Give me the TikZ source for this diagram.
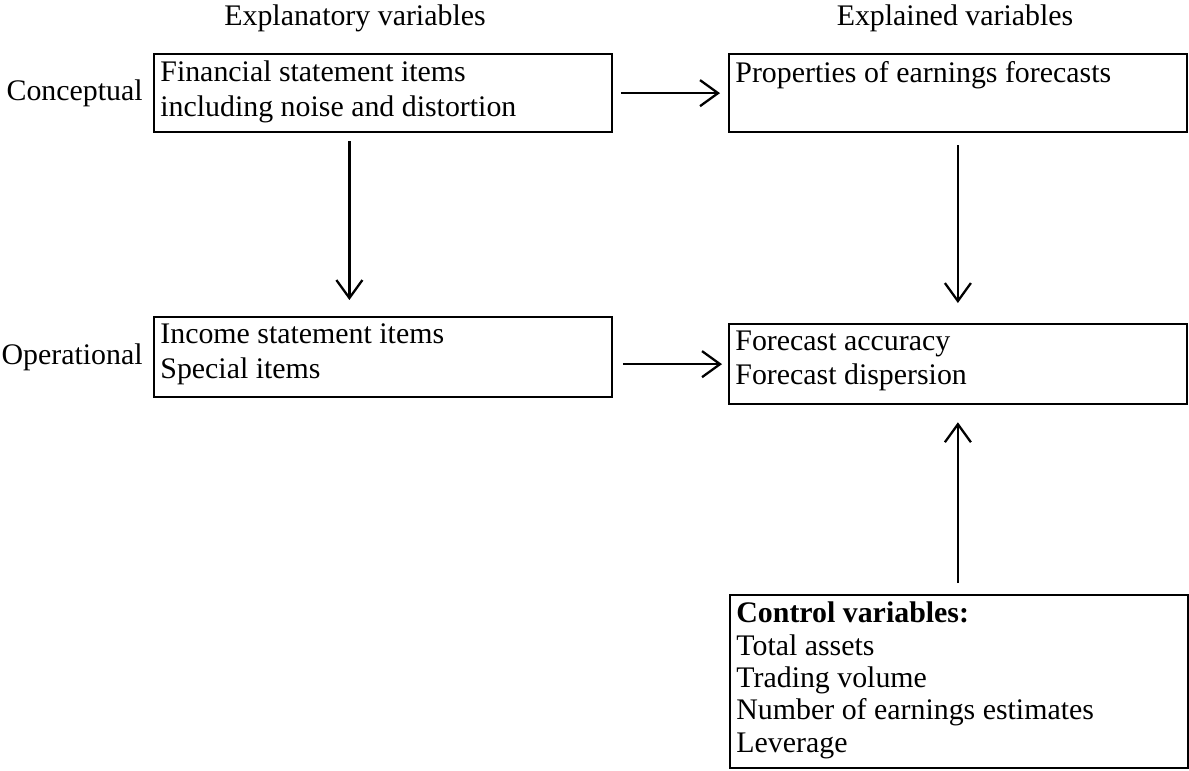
\documentclass[tikz,border=0pt]{standalone}
\usepackage{fontspec}
\setmainfont{Liberation Serif}
\usetikzlibrary{arrows.meta,positioning}

% text at the top of a box of given height
\newcommand{\boxtext}[2]{\parbox[c][#1][t]{8.9cm}{\vspace*{0.06cm}#2}}

\tikzset{
    item/.style={draw, line width=1.3pt, anchor=north west, inner sep=0.08cm,
        minimum width=9.15cm, align=left,
        font=\fontsize{17}{19.5}\selectfont},
    head/.style={font=\fontsize{17}{19.5}\selectfont, inner sep=0pt},
    link/.style={line width=1.3pt, -{Straight Barb[length=0.36cm,width=0.52cm]}},
}

\begin{document}
\begin{tikzpicture}
    \useasboundingbox (0,0) rectangle (23.78,-15.42);
    % column titles
    \node[head] (explanatory) at (7.1,-0.36) {Explanatory variables};
    \node[head] (explained) at (19.1,-0.36) {Explained variables};
    % conceptual level
    \node[item] (fin) at (3.06,-1.06) {\boxtext{1.4cm}{Financial statement items\\including noise and distortion}};
    \node[item] (prop) at (14.56,-1.06) {\boxtext{1.4cm}{Properties of earnings forecasts}};
    % operational level
    \node[item] (income) at (3.06,-6.32) {\boxtext{1.44cm}{Income statement items\\Special items}};
    \node[item] (accuracy) at (14.56,-6.46) {\boxtext{1.44cm}{Forecast accuracy\\Forecast dispersion}};
    % controls
    \node[item, font=\fontsize{17}{18.4}\selectfont] (control) at (14.58,-11.88) {\boxtext{3.3cm}{\textbf{Control variables:}\\Total assets\\Trading volume\\Number of earnings estimates\\Leverage}};
    % row labels
    \node[head, left=0.2cm of fin.west] (conceptual) {Conceptual};
    \node[head, left=0.2cm of income.west] (operational) {Operational};

    \draw[link, shorten <=0.16cm, shorten >=0.16cm] (fin.east) -- (prop.west);
    \draw[link, shorten <=0.16cm, shorten >=0.32cm] ([xshift=-0.67cm]fin.south) -- ([xshift=-0.67cm]fin.south |- income.north);
    \draw[link, shorten <=0.24cm, shorten >=0.4cm] (prop.south) -- (accuracy.north);
    \draw[link, shorten <=0.2cm, shorten >=0.12cm] (income.east |- accuracy.west) -- (accuracy.west);
    \draw[link, shorten <=0.22cm, shorten >=0.34cm] (control.north -| accuracy.south) -- (accuracy.south);
\end{tikzpicture}
\end{document}
